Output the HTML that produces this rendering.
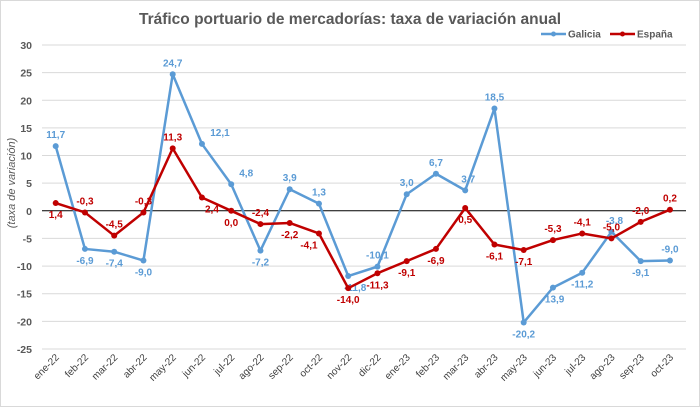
<!DOCTYPE html><html><head><style>body{margin:0;background:#fff}svg{display:block;font-family:"Liberation Sans",sans-serif}</style></head><body>
<svg id="s" width="700" height="407" xmlns="http://www.w3.org/2000/svg">
<rect x="0.5" y="0.5" width="699" height="406" fill="#fff" stroke="#d9d9d9"/>
<text x="350" y="24" text-anchor="middle" font-size="15.5" font-weight="bold" fill="#595959">Tráfico portuario de mercadorías: taxa de variación anual</text>
<g font-size="10" font-weight="bold" fill="#595959">
<line x1="541" y1="34" x2="566" y2="34" stroke="#5b9bd5" stroke-width="2.5"/><circle cx="553.5" cy="34" r="2.5" fill="#5b9bd5"/><text x="568" y="37.5">Galicia</text>
<line x1="610" y1="34" x2="635" y2="34" stroke="#c00000" stroke-width="2.5"/><circle cx="622.5" cy="34" r="2.5" fill="#c00000"/><text x="637" y="37.5">España</text>
</g>
<text transform="translate(15,183) rotate(-90)" text-anchor="middle" font-size="11" font-style="italic" fill="#595959">(taxa de variación)</text>
<g id="g"></g>
</svg>
<script>
const g=document.getElementById('g');let h='';
const Y=v=>210.8-v*5.527, X=i=>55.7+i*29.25;
for(let v=30;v>=-25;v-=5){const y=Y(v);if(v!==0)h+=`<line x1="42" x2="686" y1="${y}" y2="${y}" stroke="#d9d9d9"/>`;h+=`<text x="32" y="${y+4}" text-anchor="end" font-size="10.5" font-weight="bold" fill="#595959">${v}</text>`}
h+=`<line x1="42" x2="686" y1="${Y(0)}" y2="${Y(0)}" stroke="#000"/>`;
const m=['ene-22','feb-22','mar-22','abr-22','may-22','jun-22','jul-22','ago-22','sep-22','oct-22','nov-22','dic-22','ene-23','feb-23','mar-23','abr-23','may-23','jun-23','jul-23','ago-23','sep-23','oct-23'];
m.forEach((t,i)=>{h+=`<text transform="translate(${X(i)+4},${358}) rotate(-45)" text-anchor="end" font-size="10" fill="#404040">${t}</text>`});
const G=[11.7,-6.9,-7.4,-9.0,24.7,12.1,4.8,-7.2,3.9,1.3,-11.8,-10.1,3.0,6.7,3.7,18.5,-20.2,-13.9,-11.2,-3.8,-9.1,-9.0];
const E=[1.4,-0.3,-4.5,-0.3,11.3,2.4,0.0,-2.4,-2.2,-4.1,-14.0,-11.3,-9.1,-6.9,0.5,-6.1,-7.1,-5.3,-4.1,-5.0,-2.0,0.2];
const gp='aBBBaaaBaaBaaaaaBBBaBa', ep='BaaaaBBaBBBBBBBBBaaaaa';
const gdx=[0,0,0,0,0,18,15,0,0,0,7,0,0,0,3,0,0,0,0,3,0,0];
const edx=[0,0,0,0,0,10,0,0,0,-10,0,0,0,0,0,0,0,0,0,0,0,0];
function ser(d,c,p,dx){h+=`<polyline fill="none" stroke="${c}" stroke-width="2.5" stroke-linejoin="round" points="${d.map((v,i)=>X(i)+','+Y(v)).join(' ')}"/>`;
d.forEach((v,i)=>{h+=`<circle cx="${X(i)}" cy="${Y(v)}" r="3" fill="${c}"/>`;const y=p[i]=='a'?Y(v)-8:Y(v)+15;h+=`<text x="${X(i)+dx[i]}" y="${y}" text-anchor="middle" font-size="10" font-weight="bold" fill="${c}">${v.toFixed(1).replace('.',',')}</text>`})}
ser(G,'#5b9bd5',gp,gdx);ser(E,'#c00000',ep,edx);
g.innerHTML=h;
</script></body></html>
